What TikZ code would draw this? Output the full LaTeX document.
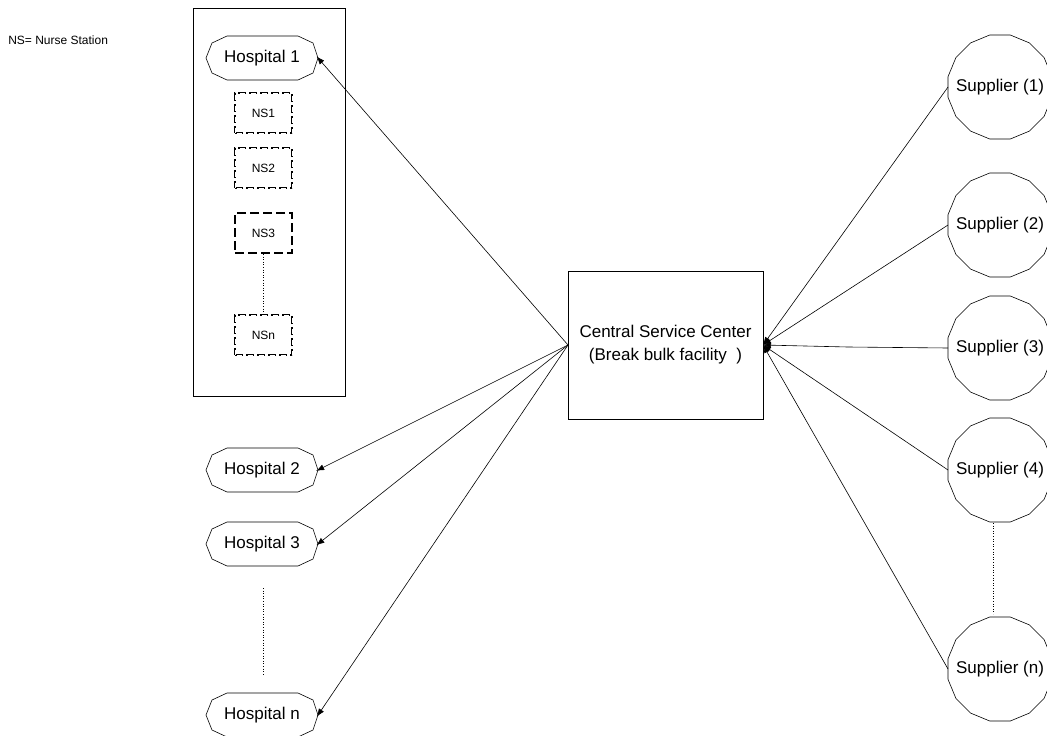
\documentclass[tikz,border=0pt]{standalone}
\usepackage{fontspec}
\setmainfont{Liberation Sans}
\usetikzlibrary{shapes.geometric,arrows.meta}
\newcommand{\hospshape}[1]{%
  \draw ([xshift=21pt]#1.north west) -- ([xshift=-20pt]#1.north east)
    -- ([xshift=-5pt,yshift=-7pt]#1.north east) -- (#1.east)
    -- ([xshift=-5pt,yshift=7pt]#1.south east) -- ([xshift=-20pt]#1.south east)
    -- ([xshift=21pt]#1.south west) -- ([xshift=6pt,yshift=7pt]#1.south west)
    -- (#1.west) -- ([xshift=6pt,yshift=-7pt]#1.north west) -- cycle;}
\begin{document}
\begin{tikzpicture}[x=1pt,y=-1pt, line width=0.6pt,
  hosp/.style={minimum width=112pt, minimum height=44pt, inner sep=0pt, outer sep=0pt,
    font=\fontsize{17}{20}\selectfont},
  sup/.style={draw, regular polygon, regular polygon sides=16, minimum size=106pt,
    inner sep=0pt, outer sep=0pt,
    label={[font=\fontsize{17}{20}\selectfont, inner sep=0pt]center:#1}},
  center/.style={draw, minimum width=195pt, minimum height=148pt, align=center,
    inner sep=0pt, outer sep=0pt, font=\fontsize{17}{23}\selectfont},
  ns/.style={minimum width=57pt, minimum height=40pt, inner sep=0pt,
    font=\fontsize{12}{14}\selectfont},
  nsA/.style={ns, draw, line width=2.2pt, dash pattern=on 8pt off 3pt,
    postaction={draw=white, line width=0.8pt, dash pattern=on 0pt off 1.5pt on 5pt off 4.5pt}},
  nsB/.style={ns, draw, line width=2pt, dash pattern=on 9pt off 4pt},
  arr/.style={-{Latex[length=8pt,width=6pt]}},
  dots/.style={dotted, line width=0.6pt}]
\useasboundingbox (0,0) rectangle (1047,736);

% legend
\node[anchor=west, font=\fontsize{12}{14}\selectfont, inner sep=0pt] (legend) at (8,40) {NS= Nurse Station};

% hospital 1 enclosure
\node[draw, line width=1pt, minimum width=152pt, minimum height=388pt, anchor=north west,
  inner sep=0pt] (hbox) at (193,8) {};

% hospitals
\node[hosp] (h1) at (262,58) {Hospital 1};
\node[hosp] (h2) at (262,470) {Hospital 2};
\node[hosp] (h3) at (262,544) {Hospital 3};
\node[hosp] (hn) at (262,715) {Hospital n};
\hospshape{h1}\hospshape{h2}\hospshape{h3}\hospshape{hn}

% nurse stations
\node[nsA] (ns1) at (263.5,113) {NS1};
\node[nsA] (ns2) at (263.5,168) {NS2};
\node[nsB] (ns3) at (263.5,233) {NS3};
\node[nsA] (nsn) at (263.5,335) {NSn};
\draw[dots] (ns3.south) -- (nsn.north);

% central
\node[center] (cc) at (665.5,345) {Central Service Center\\(Break bulk facility\ \ )};

% suppliers
\node[sup={Supplier (1)}] (s1) at (1000,87) {};
\node[sup={Supplier (2)}] (s2) at (1000,225) {};
\node[sup={Supplier (3)}] (s3) at (1000,348) {};
\node[sup={Supplier (4)}] (s4) at (1000,470) {};
\node[sup={Supplier (n)}] (sn) at (1000,669) {};
\coordinate (s4d) at (993,523);
\coordinate (snd) at (993,614);
\draw[dots] (s4d) -- (snd);

% hospital dots
\coordinate (h3d) at (263,588);
\coordinate (hnd) at (263,676);
\draw[dots] (h3d) -- (hnd);

% connectors to hospitals
\foreach \h in {h1,h2,h3,hn}
  \draw[arr, shorten >=-2pt] (cc.west) -- (\h.east);

% connectors from suppliers
\draw[arr] (s1.west) -- (cc.east);
\draw[arr] (s2.west) -- (cc.east);
\draw[arr] (s3.west) -- ++(-100,-1) -- (cc.east);
\draw[arr] (s4.west) -- (cc.east);
\draw[arr] (sn.west) -- (cc.east);
\end{tikzpicture}
\end{document}
